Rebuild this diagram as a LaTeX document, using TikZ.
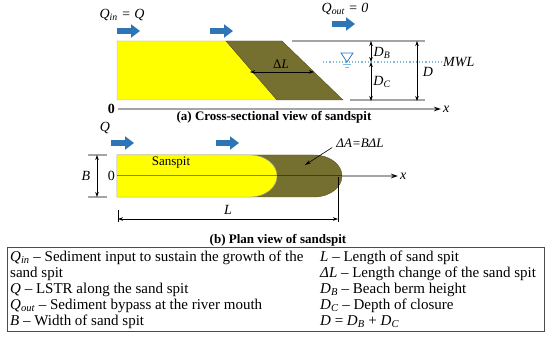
\documentclass[tikz,border=0pt]{standalone}
\usepackage{fontspec}
\setmainfont{Liberation Serif}
\usetikzlibrary{arrows.meta, positioning, calc}
\definecolor{sandyel}{RGB}{255,255,0}
\definecolor{spitolive}{RGB}{118,112,48}
\definecolor{flowblue}{RGB}{46,117,182}
\definecolor{axgray}{RGB}{165,165,165}
\definecolor{waterblue}{RGB}{130,185,220}
\definecolor{markblue}{RGB}{40,120,200}
\newcommand{\isub}[2]{\textit{#1}\textsubscript{\textit{#2}}}

\begin{document}
\begin{tikzpicture}[x=1pt, y=-1pt,
  lbl/.style={font=\fontsize{14}{16}\selectfont\itshape, inner sep=1pt},
  captxt/.style={font=\fontsize{13}{15}\selectfont\bfseries, inner sep=1pt},
  leg/.style={font=\fontsize{15}{16}\selectfont, anchor=west, inner sep=0pt},
  flowarr/.style={line width=6pt, flowblue, -{Triangle[length=9pt, width=13pt]}},
  axisln/.style={axgray, line width=1.2pt, -{Stealth[black, length=7pt, width=4.5pt]}},
  guide/.style={axgray, line width=1.2pt},
  dim/.style={black, line width=0.6pt, {Stealth[length=5pt, width=3.5pt]}-{Stealth[length=5pt, width=3.5pt]}},
  ptr/.style={black, line width=0.6pt, -{Stealth[length=6pt, width=3.5pt]}}
]
\useasboundingbox (0,0) rectangle (550,339);

% (a) cross section
\fill[sandyel, draw=axgray] (117,41) -- (226,41) -- (277,100) -- (117,100) -- cycle;
\fill[spitolive, draw=spitolive!70!black] (226,41) -- (282,41) -- (343,100) -- (277,100) -- cycle;

\coordinate (qa1) at (117,31);
\coordinate (qa2) at (210,31);
\coordinate (qa3) at (332,24);
\draw[flowarr] (qa1) -- +(23,0);
\draw[flowarr] (qa2) -- +(23,0);
\draw[flowarr] (qa3) -- +(23,0);
\node[lbl] (qin) at (122,15) {\isub{Q}{in} = \textit{Q}};
\node[lbl] (qout) at (345,9) {\isub{Q}{out} = \textit{0}};

% base line and levels
\coordinate (a0) at (118,109);
\coordinate (ax) at (441,109);
\draw[axisln] (a0) -- (ax);
\node[lbl, font=\fontsize{14}{16}\selectfont\bfseries, left=2pt of a0] (a0l) {0};
\node[lbl, right=1pt of ax] (axl) {x};

\coordinate (topl) at (292,41);
\coordinate (topr) at (425,41);
\coordinate (botl) at (350,100);
\coordinate (botr) at (425,100);
\draw[guide] (topl) -- (topr);
\draw[guide] (botl) -- (botr);

\coordinate (mwll) at (323,62);
\coordinate (mwlr) at (442,62);
\draw[waterblue, line width=1.2pt, dotted] (mwll) -- (mwlr);
\node[lbl, right=0pt of mwlr] (mwl) {MWL};
\draw[markblue, fill=white, line width=0.8pt] (341,53) -- (353,53) -- (347,62) -- cycle;
\draw[waterblue, line width=0.6pt] (343,64.5) -- (351,64.5) (345,67) -- (349,67);

% depths
\coordinate (dbt) at (371,41);
\coordinate (dbm) at (371,62);
\coordinate (dcb) at (371,101);
\coordinate (dt) at (417,41);
\coordinate (db) at (417,101);
\draw[dim] (dbt) -- (dbm);
\draw[dim] (dbm) -- (dcb);
\draw[dim] (dt) -- (db);
\node[lbl] (dbl) at (382,53) {\isub{D}{B}};
\node[lbl] (dcl) at (382,82) {\isub{D}{C}};
\node[lbl] (dl) at (428,72) {D};

% growth
\coordinate (dll) at (250,72);
\coordinate (dlr) at (314,72);
\draw[dim] (dll) -- (dlr);
\node[lbl, font=\fontsize{13}{15}\selectfont] (dlab) at (281,64) {Δ\textit{L}};

\node[captxt] (capa) at (274,117) {(a) Cross-sectional view of sandspit};

% (b) plan view
\fill[spitolive, draw=spitolive!70!black] (117,155) -- (314,155)
  arc[start angle=-90, end angle=90, x radius=28, y radius=21] -- (117,197) -- cycle;
\fill[sandyel, draw=axgray] (117,155) -- (250,155)
  arc[start angle=-90, end angle=90, x radius=27, y radius=21] -- (117,197) -- cycle;

\coordinate (pb1) at (111,143);
\coordinate (pb2) at (216,143);
\draw[flowarr] (pb1) -- +(23,0);
\draw[flowarr] (pb2) -- +(23,0);
\node[lbl] (ql) at (105,128) {Q};

\coordinate (p0) at (117,176);
\coordinate (pe) at (342,176);
\coordinate (px) at (398,176);
\draw[black, opacity=0.45, line width=1pt] (p0) -- (pe);
\draw[axisln] (pe) -- (px);
\node[lbl, right=1pt of px] (pxl) {x};
\node[lbl, font=\fontsize{14}{16}\selectfont, left=1pt of p0] (p0l) {0};
\node[font=\fontsize{13}{15}\selectfont] (spit) at (171,163) {Sanspit};

% width
\coordinate (bt) at (97,155);
\coordinate (bb) at (97,197);
\draw[guide] (88,155) -- (107,155) (88,197) -- (107,197);
\draw[dim] (bt) -- (bb);
\node[lbl] (bl) at (86,176) {B};

% length
\coordinate (ll) at (118,219);
\coordinate (lr) at (338,219);
\draw[black, line width=0.6pt] (118,210) -- (118,222) (338,177) -- (338,222);
\draw[dim] (ll) -- (lr);
\node[lbl] (lab) at (228,210) {L};

\node[lbl, font=\fontsize{13}{15}\selectfont\itshape] (dal) at (360,143) {ΔA=BΔL};
\coordinate (dap) at (305,165);
\draw[ptr] (dal.south west) ++(-3,-1) coordinate (das) -- (dap);

\node[captxt] (capb) at (278,240) {(b) Plan view of sandspit};

% legend
\draw[black!70, line width=0.8pt] (7,247) rectangle (544,331);
\node[leg] (g1) at (10,258) {\isub{Q}{in} – Sediment input to sustain the growth of the};
\node[leg] (g2) at (10,274) {sand spit};
\node[leg] (g3) at (10,290) {\textit{Q} – LSTR along the sand spit};
\node[leg] (g4) at (10,306) {\isub{Q}{out} – Sediment bypass at the river mouth};
\node[leg] (g5) at (10,322) {\textit{B} – Width of sand spit};
\node[leg] (h1) at (320,258) {\textit{L} – Length of sand spit};
\node[leg] (h2) at (320,274) {\textit{ΔL} – Length change of the sand spit};
\node[leg] (h3) at (320,290) {\isub{D}{B} – Beach berm height};
\node[leg] (h4) at (320,306) {\isub{D}{C} – Depth of closure};
\node[leg] (h5) at (320,322) {\textit{D} = \isub{D}{B} + \isub{D}{C}};
\end{tikzpicture}
\end{document}
